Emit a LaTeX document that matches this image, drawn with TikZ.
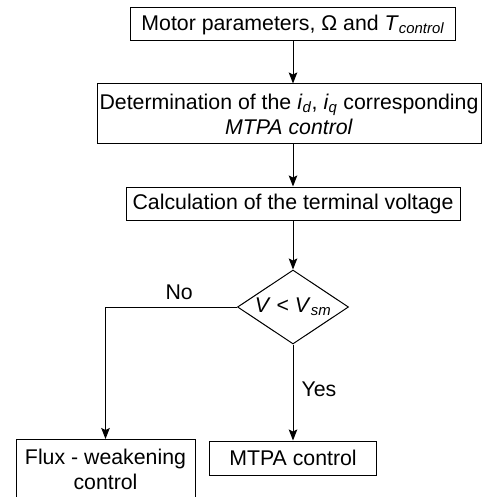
\documentclass[tikz,border=0pt]{standalone}
\usepackage{fontspec}
\setmainfont{Liberation Sans}
\usetikzlibrary{shapes.geometric, positioning, arrows.meta}

\begin{document}
\begin{tikzpicture}[x=1pt, y=-1pt, line width=1pt, font=\fontsize{21.3}{25}\selectfont,
  >={Stealth[length=11pt, width=8.5pt, inset=2pt]},
  block/.style={draw, rectangle, inner sep=0pt, minimum height=33pt, align=center},
  decision/.style={draw, diamond, aspect=1.5, inner sep=0pt, minimum width=111pt, minimum height=74pt}]
\useasboundingbox (0,0) rectangle (484,497);
\node (params) [block, minimum width=325pt] at (293,24.5) {Motor parameters, Ω and \textit{T}\textsubscript{\textit{control}}};
\node (mtpa) [block, minimum width=384pt, minimum height=60pt] at (289,114) {Determination of the \textit{i}\textsubscript{\textit{d}}, \textit{i}\textsubscript{\textit{q}} corresponding\\\textit{MTPA control}};
\node (volt) [block, minimum width=334pt] at (293,203.5) {Calculation of the terminal voltage};
\node (cond) [decision, below=49pt of volt] {\textit{V} < \textit{V}\textsubscript{\textit{sm}}};
\node (ctrl) [block, minimum width=167pt, minimum height=34pt, below=96pt of cond] {MTPA control};
\node (flux) [block, minimum width=179pt, minimum height=60pt] at (105.5,469.5) {Flux - weakening\\control};
\path [->]
     (params) edge (params |- mtpa.north)
     (mtpa.south -| volt) edge (volt)
     (volt) edge (cond)
     (cond) edge node [right, inner sep=8pt, pos=0.47] {Yes} (ctrl);
\draw [->] (cond) -| node [above, inner sep=7pt, pos=0.22] {No} (flux);
\end{tikzpicture}
\end{document}
